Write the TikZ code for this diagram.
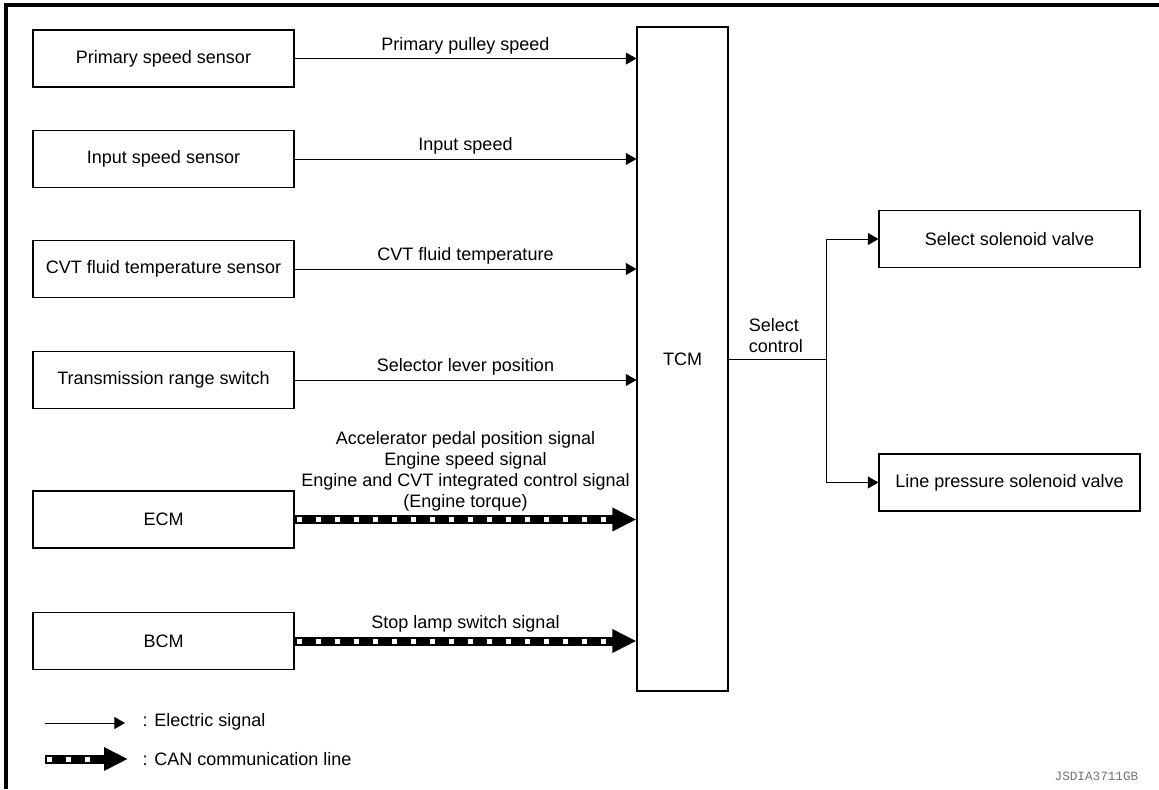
\documentclass[tikz,border=0pt]{standalone}
\usepackage{fontspec}
\setmainfont{Liberation Sans}
\setmonofont{Liberation Mono}
\usepackage{tikz}
\usetikzlibrary{positioning,arrows.meta,calc}
\definecolor{idgray}{gray}{0.45}

\begin{document}
\begin{tikzpicture}[
      x=0.75pt, y=-0.75pt,
      font=\fontsize{13.5}{15.75}\selectfont,
      box/.style={draw, line width=0.8pt, minimum width=195.75pt,
                  minimum height=42.75pt, inner sep=2pt, align=center},
      sig/.style={line width=0.75pt, -{Triangle[length=8pt,width=9pt]}},
      can/.style={line width=6.75pt, -{Triangle[length=18pt,width=16.5pt]},
                  postaction={draw=white, -, line width=3.75pt,
                              dash pattern=on 3.75pt off 10.5pt,
                              dash phase=-1.5pt, shorten >=19pt}},
      lbl/.style={midway, above, inner sep=3pt, align=center},
    ]
    \useasboundingbox (0,0) rectangle (1159,789);
    \draw[line width=3pt] (6,789) |- (1159,5);

    \node[box] (pss) at (163.5,58.5) {Primary speed sensor};
    \node[box] (iss) at (163.5,159) {Input speed sensor};
    \node[box] (cft) at (163.5,269) {CVT fluid temperature sensor};
    \node[box] (trs) at (163.5,380) {Transmission range switch};
    \node[box] (ecm) at (163.5,519.5) {ECM};
    \node[box] (bcm) at (163.5,641) {BCM};
    \node[box, minimum width=68.25pt, minimum height=498pt] (tcm) at (682.5,359) {TCM};
    \node[box] (ssv) at (1009.5,239) {Select solenoid valve};
    \node[box] (lpsv) at (1009.5,482.5) {Line pressure solenoid valve};

    \draw[sig] (pss) -- (pss -| tcm.west) node[lbl] {Primary pulley speed};
    \draw[sig] (iss) -- (iss -| tcm.west) node[lbl] {Input speed};
    \draw[sig] (cft) -- (cft -| tcm.west) node[lbl] {CVT fluid temperature};
    \draw[sig] (trs) -- (trs -| tcm.west) node[lbl] {Selector lever position};
    \draw[can] (ecm) -- (ecm -| tcm.west)
      node[lbl] {Accelerator pedal position signal\\Engine speed signal\\
                 Engine and CVT integrated control signal\\(Engine torque)};
    \draw[can] (bcm) -- (bcm -| tcm.west) node[lbl] {Stop lamp switch signal};

    \coordinate (jn) at ($(tcm.east)+(98,0)$);
    \draw[line width=0.75pt] (tcm.east) -- (jn);
    \node[anchor=south west, align=left, inner sep=0pt] (selctl)
      at ($(tcm.east)+(20,-6)$) {Select\\control};
    \draw[sig] (jn) |- (ssv);
    \draw[sig] (jn) |- (lpsv);

    \coordinate (sigA) at (45,723);
    \coordinate (sigB) at (125,723);
    \draw[sig] (sigA) -- (sigB);
    \node[anchor=west] (sigtxt) at (138,722) {: Electric signal};
    \coordinate (canA) at (45,759);
    \coordinate (canB) at (128,759);
    \draw[can] (canA) -- (canB);
    \node[anchor=west] (cantxt) at (138,759) {: CAN communication line};

    \node[anchor=east, text=idgray, font=\ttfamily\fontsize{9.5}{11}\selectfont]
      (figid) at (1143,776) {JSDIA3711GB};
  \end{tikzpicture}
\end{document}
